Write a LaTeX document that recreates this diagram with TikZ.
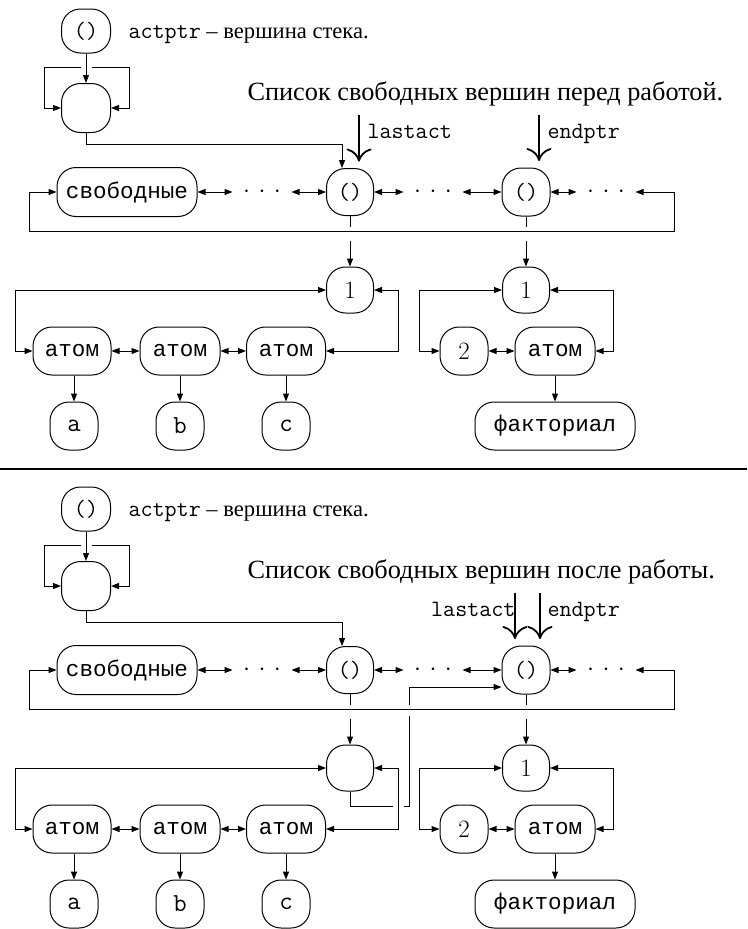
\documentclass[tikz,border=0pt]{standalone}
\usepackage{fontspec}
\newfontfamily\cyrtt{Liberation Mono}
\newfontfamily\cyrrm{Liberation Serif}
\usetikzlibrary{arrows.meta}

% three spaced centred dots standing for the elided part of a list
\newcommand{\dotrow}{$\cdotp$\hspace{8.5pt}$\cdotp$\hspace{8.5pt}$\cdotp$}

\tikzset{
  cell/.style={draw, line width=1pt, rounded corners=19pt, inner sep=0pt,
    minimum width=48pt, minimum height=48pt},
  lmtt/.style={font=\ttfamily\fontsize{23.4}{28}\selectfont},
  leaf/.style={font=\ttfamily\fontsize{26}{30}\selectfont},
  rutt/.style={font=\cyrtt\fontsize{22.6}{27}\selectfont},
  digit/.style={font=\fontsize{25}{30}\selectfont},
  caption/.style={inner sep=0pt, font=\cyrrm\fontsize{26.3}{31}\selectfont},
  stacknote/.style={inner sep=0pt, font=\cyrrm\fontsize{22.6}{27}\selectfont},
  ptrlabel/.style={inner sep=0pt, font=\ttfamily\fontsize{23.4}{28}\selectfont},
  dotsnode/.style={inner sep=0pt, minimum width=58pt, minimum height=10pt,
    font=\fontsize{23.4}{28}\selectfont},
  ptr/.style={line width=1.8pt,
    -{Computer Modern Rightarrow[length=13pt,width=25pt,line width=1.8pt]},
    shorten >=6.5pt},
}

% one picture of the free-vertex list; #1 name suffix, #2 end of the title,
% #3 contents of the head cell hanging under the first () vertex
\newcommand{\freelist}[3]{%
  % stack pointer and the empty stack frame
  \node[cell, lmtt, minimum width=49pt, minimum height=44pt] (stk#1) at (86,31) {()};
  \node[stacknote, anchor=base west] (stklab#1) at (128,38)
    {{\ttfamily\fontsize{23.4}{28}\selectfont actptr} – вершина стека.};
  \node[cell, minimum width=49pt, minimum height=49pt] (top#1) at (86,108) {};
  \coordinate (bl#1) at (81,67);
  \coordinate (br#1) at (92,67);
  \draw[->] (stk#1.south) -- (top#1.north);
  \draw[->] (bl#1) -- (44,67) |- (top#1.west);
  \draw[->] (br#1) -- (129,67) |- (top#1.east);
  % title
  \node[caption, anchor=base west] (title#1) at (247,100) {Список свободных вершин #2};
  % the doubly linked list of free vertices
  \node[cell, rutt, minimum width=140pt, minimum height=49pt] (sv#1) at (127,192) {свободные};
  \node[dotsnode] (da#1) at (262,192) {\dotrow};
  \node[cell, lmtt, minimum width=47pt, minimum height=47pt] (na#1) at (350,192) {()};
  \node[dotsnode] (db#1) at (433,192) {\dotrow};
  \node[cell, lmtt] (nb#1) at (526,192) {()};
  \node[dotsnode] (dc#1) at (606,192) {\dotrow};
  \draw[<->] (sv#1.east) -- (da#1.west);
  \draw[<->] (da#1.east) -- (na#1.west);
  \draw[<->] (na#1.east) -- (db#1.west);
  \draw[<->] (db#1.east) -- (nb#1.west);
  \draw[<->] (nb#1.east) -- (dc#1.west);
  \draw[<->] (dc#1.east) -- (674,192) |- (29,231) |- (sv#1.west);
  \draw[->] (top#1.south) |- (342,144) -- ([xshift=-8pt]na#1.north);
  % sublist hanging under the first () vertex
  \node[cell, digit, minimum width=47pt, minimum height=46pt] (hd#1) at (350,290) {#3};
  \node[cell, rutt, minimum width=78pt] (ata#1) at (72,351) {атом};
  \node[cell, rutt, minimum width=80pt] (atb#1) at (180,351) {атом};
  \node[cell, rutt, minimum width=79pt] (atc#1) at (286,351) {атом};
  \node[cell, leaf] (lfa#1) at (74,426) {a};
  \node[cell, leaf] (lfb#1) at (180,426) {b};
  \node[cell, leaf] (lfc#1) at (286,426) {c};
  \draw (na#1.south) -- ++(0,10.5);
  \draw[->] ([yshift=-24.5pt]na#1.south) -- (hd#1.north);
  \draw[<->] (hd#1.west) -- (15,290) |- (ata#1.west);
  \draw[<->] (hd#1.east) -- (398,290) |- (atc#1.east);
  \draw[<->] (ata#1.east) -- (atb#1.west);
  \draw[<->] (atb#1.east) -- (atc#1.west);
  \draw[->] (ata#1.south -| lfa#1.north) -- (lfa#1.north);
  \draw[->] (atb#1.south -| lfb#1.north) -- (lfb#1.north);
  \draw[->] (atc#1.south -| lfc#1.north) -- (lfc#1.north);
  % sublist hanging under the second () vertex
  \node[cell, digit, minimum width=47pt, minimum height=46pt] (hn#1) at (526,290) {1};
  \node[cell, digit] (two#1) at (464,351) {2};
  \node[cell, rutt, minimum width=80pt] (atd#1) at (555,351) {атом};
  \node[cell, rutt, minimum width=160pt] (fac#1) at (555,426) {факториал};
  \draw (nb#1.south) -- ++(0,10.5);
  \draw[->] ([yshift=-24.5pt]nb#1.south) -- (hn#1.north);
  \draw[<->] (hn#1.west) -- (419,290) |- (two#1.west);
  \draw[<->] (hn#1.east) -- (613,290) |- (atd#1.east);
  \draw[<->] (two#1.east) -- (atd#1.west);
  \draw[->] (atd#1.south) -- (fac#1.north);
}

\begin{document}
\begin{tikzpicture}[x=1pt, y=-1pt, line width=1pt,
    >={Triangle[length=8pt,width=6pt]}]
  \useasboundingbox (0,0) rectangle (747,929);

  % before the work
  \freelist{A}{перед работой.}{1}
  \coordinate (lpA) at (359,115);
  \coordinate (epA) at (539,115);
  \draw[ptr] (lpA) -- ([xshift=9pt]naA.north);
  \draw[ptr] (epA) -- ([xshift=13pt]nbA.north);
  \node[ptrlabel, anchor=base west] (lptxtA) at (367,138) {lastact};
  \node[ptrlabel, anchor=base west] (eptxtA) at (547,138) {endptr};

  % separating rule
  \draw[line width=2pt] (0,469) -- (747,469);

  % after the work
  \begin{scope}[yshift=-478pt]
    \freelist{B}{после работы.}{}
    \coordinate (lpB) at (515,115);
    \coordinate (epB) at (540,115);
    \draw[ptr] (lpB) -- ([xshift=-11pt]nbB.north);
    \draw[ptr] (epB) -- ([xshift=14pt]nbB.north);
    \node[ptrlabel, anchor=base east] (lptxtB) at (516,138) {lastact};
    \node[ptrlabel, anchor=base west] (eptxtB) at (547,138) {endptr};
    % the emptied head cell now leads back to the second () vertex
    \draw (hdB.south) |- (393,328);
    \draw (404,328) -- (409,328) -- (409,238);
    \draw[->] (409,227) |- ([yshift=-17pt]nbB.west);
  \end{scope}
\end{tikzpicture}
\end{document}
